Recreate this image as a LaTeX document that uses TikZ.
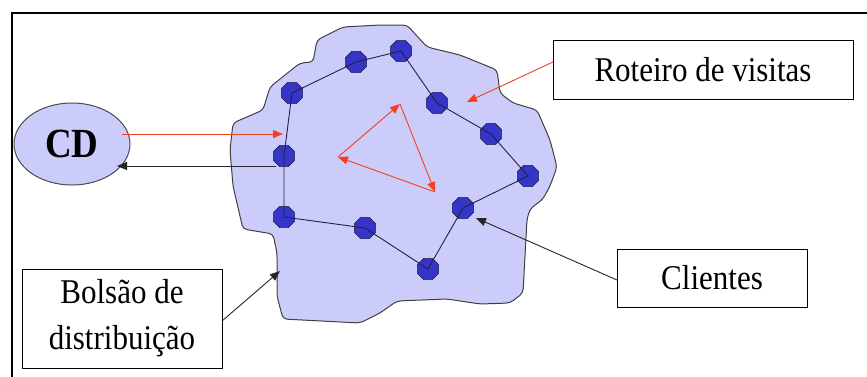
\documentclass[tikz,border=0pt]{standalone}
\usepackage{fontspec}
\usepackage{graphicx}
\setmainfont{Liberation Serif}
\usetikzlibrary{arrows.meta,shapes.geometric}
\definecolor{blobfill}{HTML}{CCCCFA}
\definecolor{nodeblue}{HTML}{3535C8}
\definecolor{routeline}{HTML}{20204A}
\definecolor{redarr}{HTML}{F24020}
\newcommand{\tallt}[1]{\scalebox{1}[1.12]{#1}}
\begin{document}
\begin{tikzpicture}[x=1pt,y=-1pt,
 client/.style={regular polygon, regular polygon sides=8, minimum size=23pt, inner sep=0pt, fill=nodeblue, draw=routeline, line width=0.6pt},
 route/.style={draw=routeline, line width=0.9pt},
 redarrow/.style={draw=redarr, line width=0.9pt, -{Triangle[length=10pt,width=8pt]}},
 blackarrow/.style={draw=black!85, line width=0.9pt, -{Triangle[length=10pt,width=8pt]}},
 labelbox/.style={draw=black, line width=1pt, fill=white, font=\fontsize{31}{46}\selectfont, align=center, inner sep=0pt}
]
\useasboundingbox (0,0) rectangle (867,376);
% outer frame (partly cropped)
\draw[line width=1.5pt] (12,380) -- (12,13) -- (870,13);

% distribution pocket
\draw[fill=blobfill, draw=black!75, line width=1pt, rounded corners=4pt]
 (300,63) -- (313,62) -- (317,40) -- (343,27) -- (380,25) -- (407,25) -- (427,47) -- (460,55)
 -- (497,70) -- (500,93) -- (513,103) -- (537,110) -- (550,140) -- (557,167) -- (550,186)
 -- (543,199) -- (530,209) -- (527,219) -- (523,293) -- (510,303) -- (480,304) -- (447,299)
 -- (397,301) -- (380,313) -- (360,323) -- (283,319) -- (277,296) -- (277,253) -- (273,234)
 -- (243,229) -- (233,186) -- (230,150) -- (233,123) -- (263,110) -- (270,87) -- cycle;

% CD
\node[ellipse, draw=black!70, line width=1pt, fill=blobfill, minimum width=116pt, minimum height=82pt,
 font=\bfseries\fontsize{37}{37}\selectfont] (CD) at (72,144) {\tallt{CD}};

% clients
\node[client] (n1) at (292,93) {};
\node[client] (n2) at (356,62) {};
\node[client] (n3) at (401,51) {};
\node[client] (n4) at (437,103) {};
\node[client] (n5) at (491,134) {};
\node[client] (n6) at (528,176) {};
\node[client] (n7) at (463,208) {};
\node[client] (n8) at (428,269) {};
\node[client] (n9) at (365,228) {};
\node[client] (n10) at (284,217) {};
\node[client] (n11) at (284,156) {};

\draw[route] (n11.center) -- (n1.center) -- (n2.center) -- (n3.center) -- (n4.center) -- (n5.center)
 -- (n6.center) -- (n7.center) -- (n8.center) -- (n9.center) -- (n10.center) -- (n11.center);

% label boxes
\node[labelbox, minimum width=300pt, minimum height=59pt] (roteiro) at (703,69.5) {\tallt{Roteiro de visitas}};
\node[labelbox, minimum width=190pt, minimum height=58pt] (clientes) at (712,278) {\tallt{Clientes}};
\node[labelbox, minimum width=200pt, minimum height=99pt] (bolsao) at (122,318.5) {\tallt{Bolsão de}\\\tallt{distribuição}};

% free ends
\coordinate (cdout) at (122,134);
\coordinate (cdin) at (283,134);
\coordinate (backstart) at (276,166);
\coordinate (backend) at (117,166);
\coordinate (rotstart) at (553,62);
\coordinate (rotend) at (467,102);
\coordinate (clistart) at (617,280);
\coordinate (cliend) at (476,218);
\coordinate (bolstart) at (222,321);
\coordinate (bolend) at (280,271);
\coordinate (t1) at (338,157);
\coordinate (t2) at (400,104);
\coordinate (t3) at (435,192);

\draw[redarrow] (cdout) -- (cdin);
\draw[blackarrow] (backstart) -- (backend);
\draw[redarrow] (rotstart) -- (rotend);
\draw[blackarrow] (clistart) -- (cliend);
\draw[blackarrow] (bolstart) -- (bolend);
\draw[redarrow] (t1) -- (t2);
\draw[redarrow] (t2) -- (t3);
\draw[redarrow] (t3) -- (t1);
\end{tikzpicture}
\end{document}
